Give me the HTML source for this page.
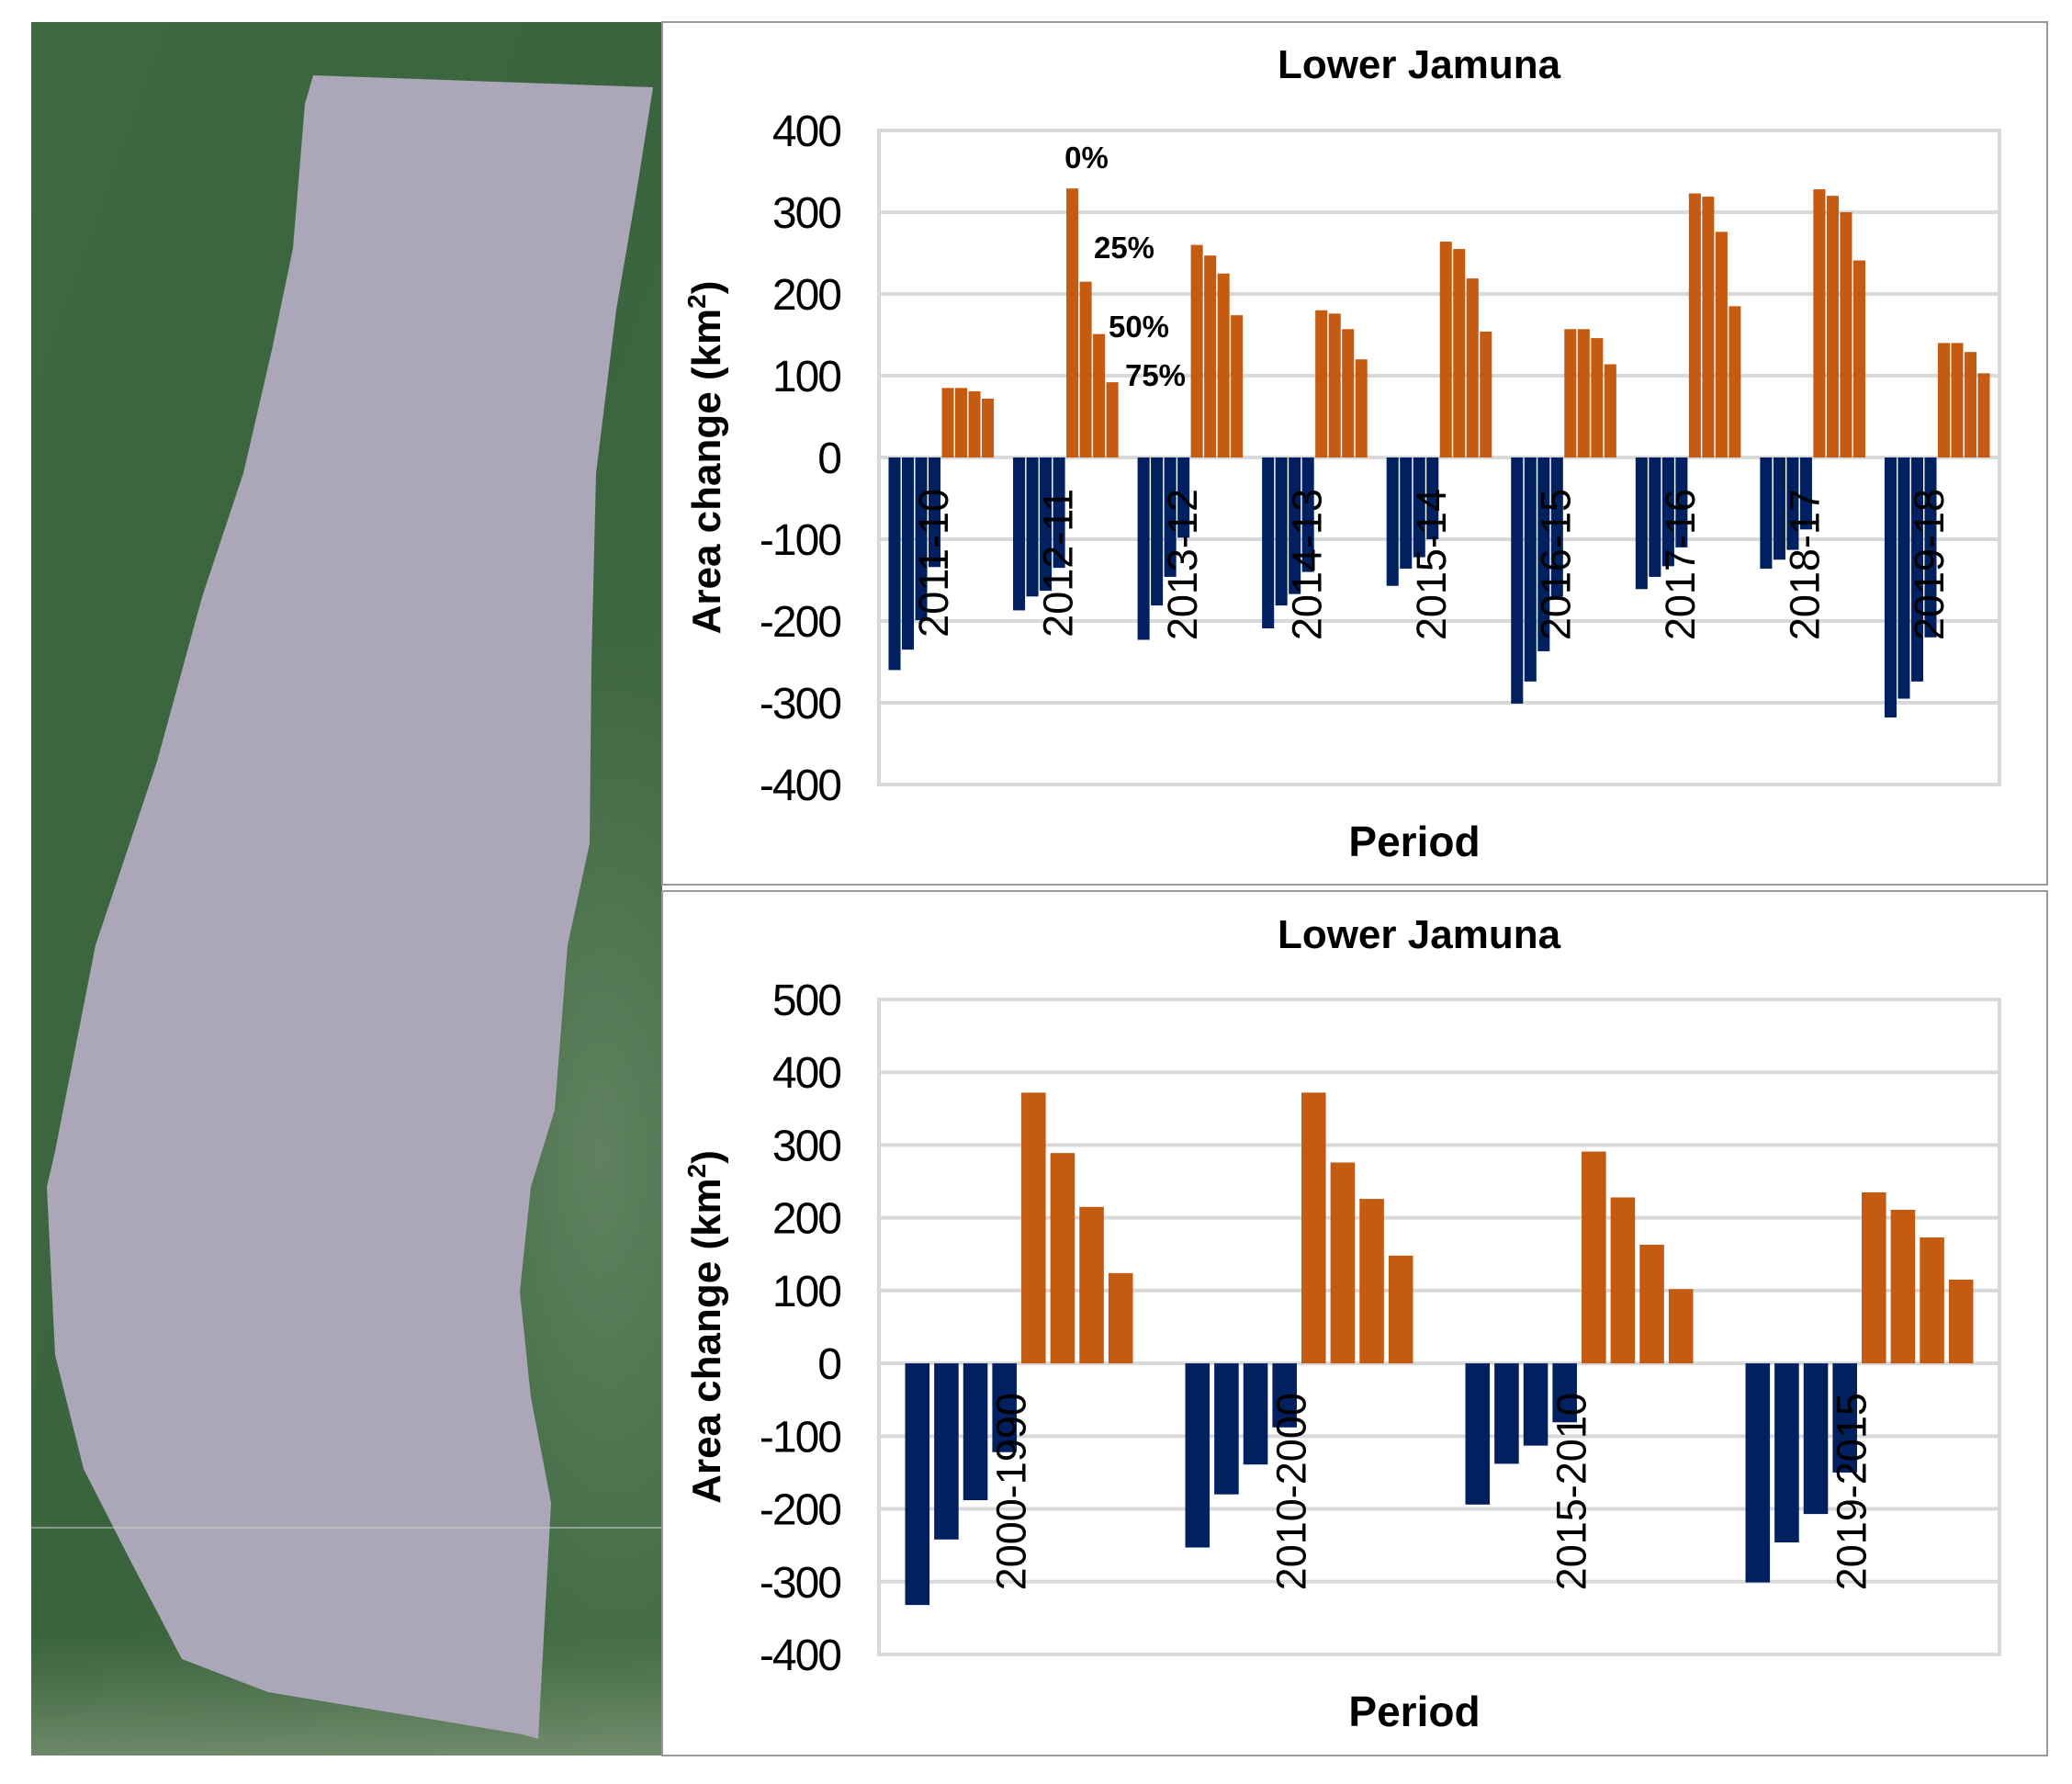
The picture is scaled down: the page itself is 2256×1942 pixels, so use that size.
<!DOCTYPE html>
<html><head><meta charset="utf-8">
<style>
html,body{margin:0;padding:0;background:#fff;}
svg{display:block;font-family:"Liberation Sans",Arial,sans-serif;}
</style></head>
<body>
<svg id="root" width="2256" height="1942" viewBox="0 0 2256 1942" xmlns="http://www.w3.org/2000/svg">
<defs>
<linearGradient id="grn" x1="0" y1="0" x2="1" y2="1">
<stop offset="0" stop-color="#3d6a40"/><stop offset="0.5" stop-color="#3a643d"/><stop offset="1" stop-color="#456e47"/>
</linearGradient>
<radialGradient id="lt" cx="0.9" cy="0.65" r="0.3"><stop offset="0" stop-color="#8fa58a" stop-opacity="0.4"/><stop offset="1" stop-color="#8fa58a" stop-opacity="0"/></radialGradient>
<linearGradient id="bt" x1="0" y1="0" x2="0" y2="1"><stop offset="0" stop-color="#7e9478" stop-opacity="0"/><stop offset="1" stop-color="#8fa085" stop-opacity="0.6"/></linearGradient>
</defs>
<g>
<rect x="34" y="24" width="687" height="1887" fill="url(#grn)"/>
<rect x="34" y="24" width="687" height="1887" fill="url(#lt)"/>
<rect x="34" y="1780" width="687" height="131" fill="url(#bt)"/>
<polygon fill="#aca6b9" points="341,82 711,95 694,203 671,337 649,515 644,720 642,918 618,1029 604,1208 578,1292 566,1406 578,1521 600,1636 586,1893 569,1888 292,1842 198,1806 140,1695 91,1599 60,1475 51,1292 60,1253 104,1029 171,829 220,650 265,515 296,381 319,270 332,113"/>
<line x1="34" y1="1663" x2="721" y2="1663" stroke="#c8d0c8" stroke-width="1.5" opacity="0.7"/>
</g>
<rect x="721" y="24" width="1508" height="939" fill="none" stroke="#999" stroke-width="2"/>
<rect x="721" y="970" width="1508" height="941" fill="none" stroke="#999" stroke-width="2"/>
<g id="c1"></g>
<g id="c2"></g>
</svg>
<script>
const NS="http://www.w3.org/2000/svg";
const topCats=["2011-10","2012-11","2013-12","2014-13","2015-14","2016-15","2017-16","2018-17","2019-18"];
const topNeg0=[-260,-187,-223,-209,-157,-301,-161,-136,-318];
const topNeg25=[-235,-170,-181,-181,-136,-274,-146,-125,-295];
const topNeg50=[-199,-163,-146,-167,-122,-237,-133,-113,-274];
const topNeg75=[-134,-135,-98,-140,-100,-170,-110,-88,-220];
const topPos0=[85,329,260,180,264,157,323,328,140];
const topPos25=[85,215,247,176,255,157,319,320,140];
const topPos50=[81,151,225,157,219,146,276,300,129];
const topPos75=[72,92,174,120,154,114,185,241,103];
const topTicks=[400,300,200,100,0,-100,-200,-300,-400];

const botCats=["2000-1990","2010-2000","2015-2010","2019-2015"];
const botNeg0=[-332,-253,-194,-301];
const botNeg25=[-242,-180,-138,-246];
const botNeg50=[-188,-139,-113,-207];
const botNeg75=[-122,-88,-81,-150];
const botPos0=[372,372,291,235];
const botPos25=[289,276,228,211];
const botPos50=[215,226,163,173];
const botPos75=[124,148,102,115];
const botTicks=[500,400,300,200,100,0,-100,-200,-300,-400];

function mk(tag,attrs,parent,txt){const e=document.createElementNS(NS,tag);for(const k in attrs)e.setAttribute(k,attrs[k]);if(txt!==undefined)e.textContent=txt;parent.appendChild(e);return e;}

function drawChart(g,o){
  const y=v=>o.y0+(o.max-v)/(o.max-o.min)*(o.y1-o.y0);
  const t=mk("text",{x:1545,y:o.titleY,"text-anchor":"middle","font-size":44,"font-weight":"bold",fill:"#000"},g,"Lower Jamuna");
  
  
  o.ticks.forEach(v=>{
    const l=mk("line",{x1:o.x0,x2:o.x1,y1:y(v),y2:y(v),stroke:"#d9d9d9","stroke-width":4},g);
    
    
    const tx=mk("text",{x:915,y:y(v)+17,"text-anchor":"end","font-size":48,fill:"#000",style:"letter-spacing:-2px"},g,String(v));
    
    
  });
  const fr=mk("rect",{x:o.x0,y:o.y0,width:o.x1-o.x0,height:o.y1-o.y0,fill:"none",stroke:"#d9d9d9","stroke-width":4},g);
  
  
  const n=o.cats.length, gw=(o.x1-o.x0)/n, pitch=gw*o.pr, bw=pitch*o.br;
  const series=[o.s[0],o.s[1],o.s[2],o.s[3],o.s[4],o.s[5],o.s[6],o.s[7]];
  const z=y(0);
  for(let i=0;i<n;i++){
    const gx=o.x0+i*gw+(gw-8*pitch)/2;
    for(let k=0;k<8;k++){
      const v=series[k][i]; const yy=y(v);
      const r=mk("rect",{x:gx+k*pitch+(pitch-bw)/2,y:Math.min(yy,z),width:bw,height:Math.abs(yy-z),fill:k<4?"#002060":"#c55a11"},g);
      
      
    }
    const cx=o.x0+(i+0.5)*gw+7, ty=z+o.lblOff;
    const lt=mk("text",{x:cx,y:ty,transform:`rotate(-90 ${cx} ${ty})`,"text-anchor":"end","font-size":45,fill:"#000"},g,o.cats[i]);
    
    
  }
  const yt=mk("text",{x:784,y:(o.y0+o.y1)/2,transform:`rotate(-90 784 ${(o.y0+o.y1)/2})`,"text-anchor":"middle","font-size":44,"font-weight":"bold",fill:"#000"},g);
  
  
  mk("tspan",{},yt,"Area change (km");
  mk("tspan",{"font-size":28,dy:-16},yt,"2");
  mk("tspan",{dy:16},yt,")");
  const xt=mk("text",{x:1540,y:o.periodY,"text-anchor":"middle","font-size":46,"font-weight":"bold",fill:"#000"},g,"Period");
  
  
}
const c1=document.getElementById("c1"), c2=document.getElementById("c2");
drawChart(c1,{x0:957,x1:2177,y0:142,y1:854,max:400,min:-400,ticks:topTicks,cats:topCats,pr:0.107,br:0.9,lblOff:34,titleY:85,periodY:932,
  s:[topNeg0,topNeg25,topNeg50,topNeg75,topPos0,topPos25,topPos50,topPos75]});
drawChart(c2,{x0:957,x1:2177,y0:1088,y1:1801,max:500,min:-400,ticks:botTicks,cats:botCats,pr:0.1037,br:0.84,lblOff:32,titleY:1032,periodY:1879,
  s:[botNeg0,botNeg25,botNeg50,botNeg75,botPos0,botPos25,botPos50,botPos75]});
[["0%",1183,183],["25%",1224,281],["50%",1240,367],["75%",1258,420]].forEach(a=>{
  const e=mk("text",{x:a[1],y:a[2],"text-anchor":"middle","font-size":33,"font-weight":"bold",fill:"#000"},c1,a[0]);
  
  
});
</script>
</body></html>
